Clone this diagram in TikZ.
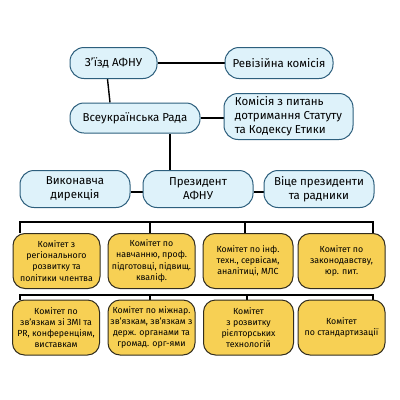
\documentclass[tikz,border=0pt]{standalone}
\usepackage{fontspec}
\setmainfont{Fira Sans}
\usepackage{tikz}
\usetikzlibrary{positioning,backgrounds}
\usepackage{xcolor}
\definecolor{boxblue}{RGB}{222,242,250}
\definecolor{edgeblue}{RGB}{45,95,125}
\definecolor{boxyellow}{RGB}{247,208,84}
\definecolor{edgedark}{RGB}{50,45,30}

\begin{document}
\begin{tikzpicture}[x=1pt, y=-1pt,
    govbox/.style={rectangle, draw=edgeblue, line width=1pt, fill=boxblue,
        rounded corners=14pt, inner sep=2pt, align=center,
        font=\fontsize{11.5}{14}\selectfont},
    combox/.style={rectangle, draw=edgedark, line width=1pt, fill=boxyellow,
        rounded corners=12pt, inner sep=2pt, align=center,
        minimum width=87pt, minimum height=55pt,
        font=\fontsize{8.8}{11.2}\selectfont},
    link/.style={line width=1.4pt, black}
]
    \useasboundingbox (0,0) rectangle (400,400);

    % Governing bodies
    \node[govbox, minimum width=87pt, minimum height=31pt] (zizd) at (113.5,63) {З'їзд АФНУ};
    \node[govbox, minimum width=108pt, minimum height=31pt] (reviz) at (279,63) {Ревізійна комісія};
    \node[govbox, minimum width=130pt, minimum height=30pt] (rada) at (135,118) {Всеукраїнська Рада};
    \node[govbox, minimum width=129pt, minimum height=46pt, align=left] (etyka) at (288.5,116.5)
        {Комісія з питань\\дотримання Статуту\\та Кодексу Етики};

    % Executive row
    \node[govbox, minimum width=110pt, minimum height=37pt] (vykon) at (75,189) {Виконавча\\дирекція};
    \node[govbox, minimum width=110pt, minimum height=37pt] (prez) at (198,189) {Президент\\АФНУ};
    \node[govbox, minimum width=110pt, minimum height=37pt] (vice) at (319,189) {Віце президенти\\та радники};

    % Committees, first row
    \node[combox] (kom1) at (56.5,261) {Комітет з\\регіонального\\розвитку та\\політики члентва};
    \node[combox] (kom2) at (151.5,261) {Комітет по\\навчанню, проф.\\підготовці, підвищ.\\кваліф.};
    \node[combox, minimum width=90pt] (kom3) at (248,261) {Комітет по інф.\\техн., сервісам,\\аналітиці, МЛС};
    \node[combox] (kom4) at (341.5,261) {Комітет по\\законодавству,\\юр. пит.};

    % Committees, second row
    \node[combox] (kom5) at (56,327.5) {Комітет по\\зв'язкам зі ЗМІ та\\PR, конференціям,\\виставкам};
    \node[combox] (kom6) at (151.5,327.5) {Комітет по міжнар.\\зв'язкам, зв'язкам з\\держ. органами та\\громад. орг-ями};
    \node[combox, minimum width=90pt] (kom7) at (248.5,327.5) {Комітет\\з розвитку\\рієлторських\\технологій};
    \node[combox] (kom8) at (341.5,327.5) {Комітет\\по стандартизації};

    % Bracket points
    \coordinate (ba) at (20,222);
    \coordinate (bb) at (150,222);
    \coordinate (bc) at (245,222);
    \coordinate (bd) at (373,222);
    \coordinate (ca) at (20,295);
    \coordinate (cb) at (150,295);
    \coordinate (cc) at (247,295);
    \coordinate (cd) at (373,295);

    \begin{scope}[on background layer]
        \fill[white] (0,0) rectangle (400,400);
        \draw[link] (zizd) -- (reviz);
        \draw[link] ([xshift=-6pt]zizd.south) -- ([xshift=-25pt]rada.north);
        \draw[link] (rada) -- (etyka.west |- rada);
        \draw[link] ([xshift=35pt]rada.south) -- ([xshift=-28pt]prez.north);
        \draw[link] ([yshift=-3pt]vykon.east) -- ([yshift=-3pt]prez.west);
        \draw[link] ([yshift=-3pt]prez.east) -- ([yshift=-3pt]vice.west);
        % first bracket
        \draw[link] (ba |- kom1.north) -- (ba) -- (bd) -- (bd |- kom4.north);
        \draw[link] (bb) -- (bb |- kom2.north);
        \draw[link] (bc) -- (bc |- kom3.north);
        % second bracket
        \draw[link] (ca |- kom5.north) -- (ca) -- (cd) -- (cd |- kom8.north);
        \draw[link] (cb) -- (cb |- kom6.north);
        \draw[link] (cc) -- (cc |- kom7.north);
    \end{scope}
\end{tikzpicture}
\end{document}
